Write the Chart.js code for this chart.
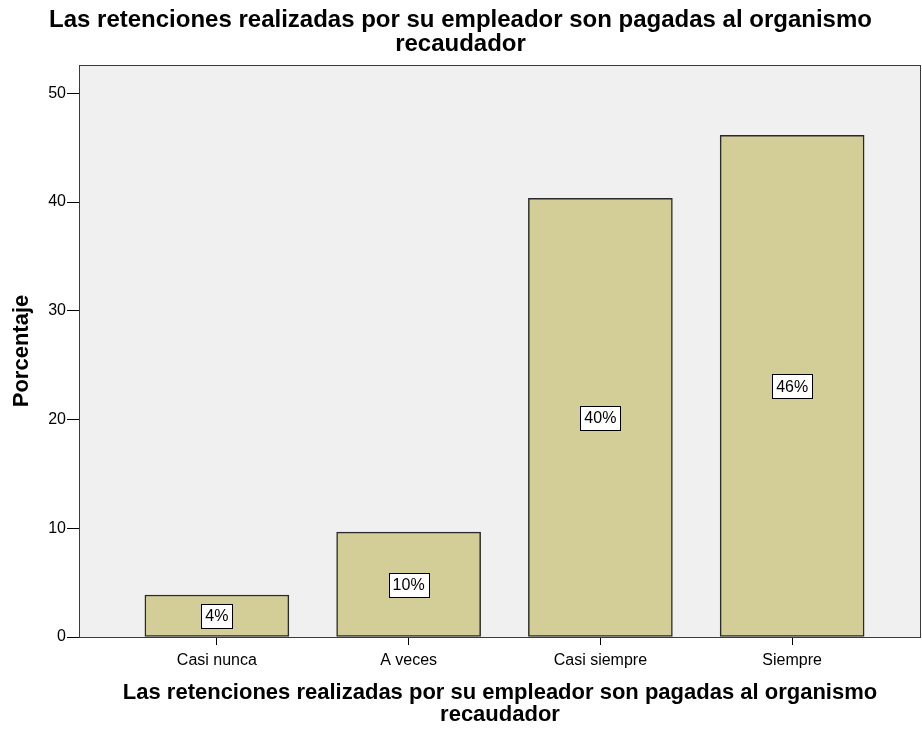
<!DOCTYPE html>
<html lang="es">
<head>
<meta charset="UTF-8">
<title>Las retenciones realizadas por su empleador</title>
<script src="https://cdn.jsdelivr.net/npm/chart.js"></script>
<style>
  html, body { margin: 0; padding: 0; background: #ffffff; }
  #wrap { width: 922px; height: 729px; }
</style>
</head>
<body>
<div id="wrap"><canvas id="chart" width="922" height="729"></canvas></div>
<script>
// chart data
const categories = ['Casi nunca', 'A veces', 'Casi siempre', 'Siempre'];
const percentages = [3.86, 9.65, 40.35, 46.14];
const barLabels = ['4%', '10%', '40%', '46%'];
const yTicks = [0, 10, 20, 30, 40, 50];
const titleLines = ['Las retenciones realizadas por su empleador son pagadas al organismo', 'recaudador'];

const FONT = '"Liberation Sans", Arial, sans-serif';

// grey plot background + frame
const frame = {
    id: 'frame',
    beforeDatasetsDraw(chart) {
        const a = chart.chartArea, ctx = chart.ctx;
        ctx.save();
        ctx.fillStyle = '#f0f0f0';
        ctx.fillRect(a.left, a.top, a.right - a.left, a.bottom - a.top);
        ctx.restore();
    },
    afterDatasetsDraw(chart) {
        const a = chart.chartArea, ctx = chart.ctx;
        ctx.save();
        ctx.strokeStyle = '#3a3a3a';
        ctx.lineWidth = 1;
        ctx.strokeRect(a.left + 0.5, a.top + 0.5, a.right - a.left - 1, a.bottom - a.top);
        ctx.restore();
    }
};

// white boxed percent labels in the middle of each bar
const boxLabels = {
    id: 'boxLabels',
    afterDatasetsDraw(chart) {
        const ctx = chart.ctx;
        const xs = chart.scales.x, ys = chart.scales.y;
        ctx.save();
        ctx.font = '16px ' + FONT;
        ctx.textAlign = 'center';
        ctx.textBaseline = 'middle';
        percentages.forEach((v, i) => {
            const cx = xs.getPixelForValue(i);
            const cy = ys.getPixelForValue(v / 2);
            const w = Math.round(ctx.measureText(barLabels[i]).width + 8);
            const h = 24;
            const x0 = Math.round(cx - w / 2), y0 = Math.round(cy - h / 2);
            ctx.fillStyle = '#ffffff';
            ctx.fillRect(x0, y0, w, h);
            ctx.strokeStyle = '#000000';
            ctx.lineWidth = 1;
            ctx.strokeRect(x0 + 0.5, y0 + 0.5, w, h);
            ctx.fillStyle = '#000000';
            ctx.fillText(barLabels[i], cx, cy + 1);
        });
        ctx.restore();
    }
};

new Chart(document.getElementById('chart').getContext('2d'), {
    type: 'bar',
    data: {
        datasets: [{
            data: percentages.map((v, i) => ({ x: i, y: v })),
            backgroundColor: '#d3ce97',
            borderColor: '#2a2a2a',
            borderWidth: 1.5,
            borderSkipped: false,
            barThickness: 144
        }]
    },
    options: {
        responsive: false,
        animation: false,
        layout: { padding: { left: 0, right: 1, top: 0, bottom: 0 } },
        plugins: {
            legend: { display: false },
            tooltip: { enabled: false },
            title: {
                display: true,
                text: titleLines,
                color: '#000000',
                font: { family: FONT, size: 24, weight: 'bold', lineHeight: 1.0 },
                padding: { top: 8, bottom: 9 }
            }
        },
        scales: {
            x: {
                type: 'linear',
                min: -0.719,
                max: 3.672,
                offset: false,
                afterBuildTicks(scale) {
                    scale.ticks = categories.map((c, i) => ({ value: i }));
                },
                afterFit(scale) { scale.height = 92; },
                ticks: {
                    callback: (v) => categories[v],
                    color: '#000000',
                    font: { family: FONT, size: 16 },
                    padding: 6
                },
                grid: { display: true, offset: false, drawOnChartArea: false, drawTicks: true, tickLength: 8, color: '#000000' },
                border: { display: false },
                title: {
                    display: true,
                    text: titleLines,
                    color: '#000000',
                    font: { family: FONT, size: 22, weight: 'bold', lineHeight: 1.0 },
                    padding: { top: 10, bottom: 3 }
                }
            },
            y: {
                min: 0,
                max: 52.6,
                afterBuildTicks(scale) {
                    scale.ticks = yTicks.map(v => ({ value: v }));
                },
                afterFit(scale) { scale.width = 79; },
                ticks: {
                    color: '#000000',
                    font: { family: FONT, size: 16 },
                    padding: 1
                },
                grid: { display: true, offset: false, drawOnChartArea: false, drawTicks: true, tickLength: 12, color: '#000000' },
                border: { display: false },
                title: {
                    display: true,
                    text: 'Porcentaje',
                    color: '#000000',
                    font: { family: FONT, size: 22, weight: 'bold' },
                    padding: { top: 9, bottom: 0 }
                }
            }
        }
    },
    plugins: [frame, boxLabels]
});
</script>
</body>
</html>
